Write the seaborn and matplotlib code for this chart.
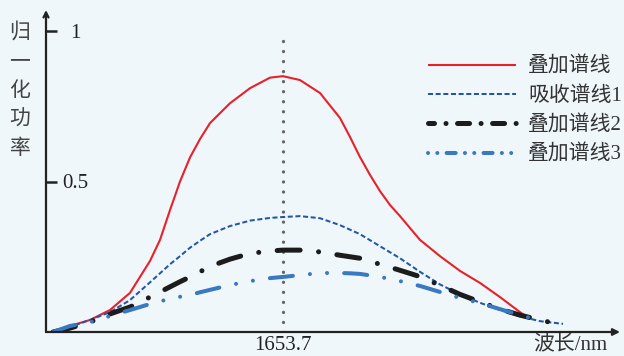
import numpy as np
import pandas as pd
import matplotlib
matplotlib.use("Agg")
import matplotlib.pyplot as plt
from matplotlib.lines import Line2D
import seaborn as sns

# ---- data ----
wavelength = [1653.010, 1653.061, 1653.121, 1653.181, 1653.241, 1653.301,
              1653.331, 1653.361, 1653.391, 1653.421, 1653.451, 1653.481,
              1653.541, 1653.601, 1653.661, 1653.700, 1653.751, 1653.811,
              1653.871, 1653.901, 1653.931, 1653.961, 1653.991, 1654.021,
              1654.051, 1654.111, 1654.171, 1654.231, 1654.291, 1654.351,
              1654.411, 1654.441, 1654.471, 1654.510, 1654.540]
nan = np.nan
sum_spec = [0.0, 0.02, 0.04, 0.073, 0.13, 0.236, 0.306, 0.405, 0.50, 0.58,
            0.641, 0.694, 0.76, 0.81, 0.845, 0.85, 0.837, 0.794, 0.711, 0.648,
            0.581, 0.522, 0.468, 0.422, 0.385, 0.306, 0.252, 0.203, 0.163,
            0.116, 0.066, 0.043, nan, nan, nan]
abs_spec1 = [0.0, 0.017, 0.04, 0.066, 0.106, 0.165, 0.195, 0.225, 0.252, 0.28,
             0.303, 0.325, 0.352, 0.37, 0.379, 0.382, 0.385, 0.378, 0.355,
             0.34, 0.325, 0.305, 0.285, 0.265, 0.245, 0.20, 0.158, 0.125,
             0.097, 0.073, 0.052, 0.044, 0.036, 0.031, 0.027]
sum_spec2 = [0.0, 0.013, 0.033, 0.06, 0.083, 0.116, 0.133, 0.15, 0.167, 0.183,
             0.20, 0.218, 0.242, 0.261, 0.269, 0.272, 0.272, 0.266, 0.255,
             0.25, 0.245, 0.235, 0.225, 0.215, 0.205, 0.184, 0.155, 0.125,
             0.10, 0.076, 0.056, 0.048, 0.04, 0.03, nan]
sum_spec3 = [0.0, 0.02, 0.033, 0.053, 0.073, 0.093, 0.102, 0.11, 0.117, 0.123,
             0.132, 0.14, 0.156, 0.169, 0.179, 0.183, 0.189, 0.196, 0.196,
             0.195, 0.193, 0.188, 0.183, 0.176, 0.169, 0.153, 0.133, 0.113,
             0.096, 0.076, 0.056, 0.047, nan, nan, nan]
series_names = ["叠加谱线", "吸收谱线1", "叠加谱线2", "叠加谱线3"]
center_wl = 1653.7
y_ticks = [0.5, 1]
y_tick_labels = ["0.5", "1"]
x_tick_labels = ["1653.7"]
x_label = "波长/nm"
y_label = "归一化功率"

# ---- styles ----
bg = "#eff7fb"
colors = ["#e8202a", "#2456a8", "#1c1c1c", "#3a78c2"]
widths = [1.5, 1.45, 3.6, 2.9]
curve_styles = ["-", (0, (2.5, 1.3)), (0, (4.6, 3.7, 0.01, 3.7)),
                (0, (5.75, 4.25, 0.01, 4.25, 0.01, 4.25))]
legend_styles = ["-", (0, (2.5, 1.3)), (1.2, (2.4, 2.3, 0.01, 2.3)),
                 (0, (0.01, 2.3, 0.01, 2.3, 2.25, 2.3))]
caps = ["butt", "butt", "round", "round"]

sns.set_style("white")
serif_cjk = ["Liberation Serif", "Noto Sans CJK SC"]
plt.rcParams["font.family"] = serif_cjk

fig = plt.figure(figsize=(6.24, 3.56), dpi=100, facecolor=bg)
ax = fig.add_axes([46 / 624, 24 / 356, 574 / 624, 322 / 356])
ax.set_facecolor(bg)

values = [sum_spec, abs_spec1, sum_spec2, sum_spec3]
for name, vals, c, w, ls, cap in zip(series_names, values, colors, widths,
                                     curve_styles, caps):
    df = pd.DataFrame({"wavelength": wavelength, "power": vals}).dropna()
    sns.lineplot(data=df, x="wavelength", y="power", ax=ax, color=c,
                 linewidth=w, linestyle=ls, dash_capstyle=cap,
                 solid_capstyle="butt", solid_joinstyle="round",
                 legend=False, zorder=3)

ytop = 322 / 301
ax.set_ylim(0, ytop)
ax.set_xlim(1652.989, 1654.711)

# center reference line
ax.axvline(center_wl, ymin=0, ymax=0.995 / ytop, color="#666666",
           linewidth=2.4, linestyle=(0, (0.01, 3.0)), dash_capstyle="round",
           zorder=2)

# axes with arrows
for s in ax.spines.values():
    s.set_visible(False)
ax.annotate("", xy=(1, 0), xytext=(0, 0), xycoords="axes fraction",
            arrowprops=dict(arrowstyle="-|>", lw=1.6, color="#222222",
                            shrinkA=0, shrinkB=0, mutation_scale=10))
ax.annotate("", xy=(0, 1), xytext=(0, 0), xycoords="axes fraction",
            arrowprops=dict(arrowstyle="->", lw=1.6, color="#222222",
                            shrinkA=0, shrinkB=0, mutation_scale=9))

ax.set_yticks(y_ticks)
ax.set_yticklabels(y_tick_labels, fontsize=15, color="#222222")
ax.tick_params(axis="y", left=True, direction="in", length=8, width=1.8,
               color="#222222", pad=-21)
for lab in ax.get_yticklabels():
    lab.set_horizontalalignment("center")

ax.set_xticks([center_wl])
ax.set_xticklabels(x_tick_labels, fontsize=15, color="#222222")
ax.tick_params(axis="x", bottom=True, length=0, pad=3)

ax.set_xlabel(x_label, fontsize=15, color="#333333")
ax.xaxis.set_label_coords((570 - 46) / 574, -0.012)
ax.set_ylabel("")

fig.text(20 / 624, 1 - 90 / 356, "\n".join(y_label), ha="center",
         va="center", fontsize=15, linespacing=1.42, color="#444444",
         family="Noto Sans CJK SC", fontweight="light")

handles = [Line2D([], [], color=c, linewidth=w, linestyle=ls,
                  dash_capstyle=cap, solid_capstyle="butt")
           for c, w, ls, cap in zip(colors, widths, legend_styles, caps)]
leg = ax.legend(handles, series_names, loc="upper left",
                bbox_to_anchor=(428 / 624, 1 - 57 / 356),
                bbox_transform=fig.transFigure, frameon=False,
                fontsize=15, handlelength=4.2, handletextpad=0.6,
                labelspacing=0.45, borderpad=0, borderaxespad=0)
for t in leg.get_texts():
    t.set_color("#333333")

fig.savefig("out.png", dpi=100, facecolor=bg)
